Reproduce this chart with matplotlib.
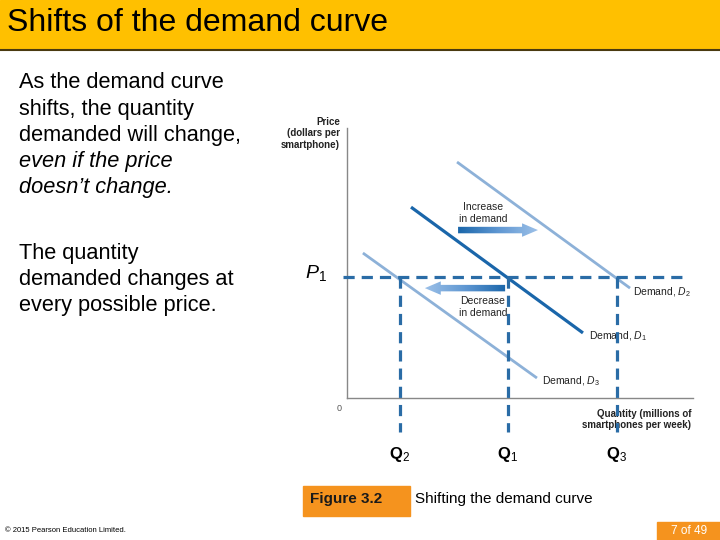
import numpy as np
import matplotlib
matplotlib.use("Agg")
import matplotlib.pyplot as plt
from matplotlib.patches import Rectangle, FancyArrow
from matplotlib.colors import LinearSegmentedColormap

plt.rcParams['font.family'] = ['Liberation Sans', 'DejaVu Sans']
plt.rcParams['mathtext.fontset'] = 'custom'
plt.rcParams['mathtext.rm'] = 'Liberation Sans'
plt.rcParams['mathtext.it'] = 'Liberation Sans:italic'
plt.rcParams['mathtext.bf'] = 'Liberation Sans:bold'

# --- データ (数量 0-100, 価格 0-100) ---
d1_q = [18.5, 68.2]
d1_p = [70.7, 24.1]
d2_q = [31.8, 81.8]
d2_p = [87.4, 40.7]
d3_q = [4.6, 54.9]
d3_p = [53.7, 7.4]
p1 = 44.8
q_vals = [15.3, 46.5, 78.0]
q_subs = ['2', '1', '3']
curve_labels = [r'Demand, $\mathit{D}_2$', r'Demand, $\mathit{D}_1$', r'Demand, $\mathit{D}_3$']

# 矢印 (開始, 終了, 価格)
inc_arrow = (32.1, 55.2, 62.2)
dec_arrow = (45.7, 22.5, 40.7)

dark_blue = '#1a66aa'
light_blue = '#8db1d8'
dash_blue = '#2a6ca6'
orange = '#f5931e'

fig = plt.figure(figsize=(7.2, 5.4), dpi=100)

# 背景 (ピクセル座標)
bg = fig.add_axes([0, 0, 1, 1])
bg.set_xlim(0, 720)
bg.set_ylim(540, 0)
bg.axis('off')

bg.add_patch(Rectangle((0, 0), 720, 49, color='#ffc000', zorder=1))
bg.plot([0, 720], [49.5, 49.5], color='#4a3a10', lw=1.5, zorder=2)
bg.text(7, 23, 'Shifts of the demand curve', fontsize=23, va='center', ha='left')

fs = 15.7
lines1 = ['As the demand curve', 'shifts, the quantity', 'demanded will change,']
for i, s in enumerate(lines1):
    bg.text(19, 83 + 26.3 * i, s, fontsize=fs, va='center')
bg.text(19, 162, 'even if the price', fontsize=fs, va='center', style='italic')
bg.text(19, 188, 'doesn\u2019t change.', fontsize=fs, va='center', style='italic')
lines2 = ['The quantity', 'demanded changes at', 'every possible price.']
for i, s in enumerate(lines2):
    bg.text(19, 253 + 26.5 * i, s, fontsize=fs, va='center')

bg.add_patch(Rectangle((303, 486), 107, 30, color=orange, zorder=1))
bg.text(310, 499, 'Figure 3.2', fontsize=11, fontweight='bold', va='center', color='#1a1a1a')
bg.text(415, 499, 'Shifting the demand curve', fontsize=11, va='center')
bg.add_patch(Rectangle((657, 522), 63, 18, color=orange, zorder=1))
bg.text(689, 531, '7 of 49', fontsize=8.5, color='white', va='center', ha='center')
bg.text(5, 531, '\u00a9 2015 Pearson Education Limited.', fontsize=5.5, va='center')

# --- グラフ ---
ax = fig.add_axes([347 / 720, 1 - 398 / 540, 346 / 720, 270 / 540])
ax.patch.set_alpha(0)
for s in ['top', 'right']:
    ax.spines[s].set_visible(False)
for s in ['left', 'bottom']:
    ax.spines[s].set_color('#888888')
    ax.spines[s].set_linewidth(1)
ax.set_xticks([])
ax.set_yticks([])

ax.plot(d2_q, d2_p, color=light_blue, lw=2, solid_capstyle='butt')
ax.plot(d1_q, d1_p, color=dark_blue, lw=2.3, solid_capstyle='butt')
ax.plot(d3_q, d3_p, color=light_blue, lw=2, solid_capstyle='butt')

ax.plot([-1.2, 98.3], [p1, p1], color=dash_blue, lw=2.3, ls=(0, (3.5, 2.2)), clip_on=False, zorder=4)
for q in q_vals:
    ax.plot([q, q], [p1, -12.6], color=dash_blue, lw=2.3, ls=(0, (3.5, 2.2)), clip_on=False, zorder=4)

# グラデーション矢印
cmap_arr = LinearSegmentedColormap.from_list('arr', [dark_blue, '#5f97d2', '#9cc0e8'])
def grad_arrow(x0, x1, y):
    dx = x1 - x0
    arr = FancyArrow(x0, y, dx, 0, width=2.4, head_width=5.0, head_length=4.6,
                     length_includes_head=True, lw=0, facecolor='none')
    ax.add_patch(arr)
    grad = np.linspace(0, 1, 256).reshape(1, -1)
    if dx < 0:
        grad = grad[:, ::-1]
    im = ax.imshow(grad, cmap=cmap_arr, aspect='auto',
                   extent=[min(x0, x1), max(x0, x1), y - 3, y + 3], zorder=3)
    im.set_clip_path(arr)

grad_arrow(*inc_arrow)
grad_arrow(*dec_arrow)
ax.set_xlim(0, 100)
ax.set_ylim(0, 100)

ax.text(39.3, 68.5, 'Increase\nin demand', fontsize=7.5, ha='center', va='center', linespacing=1.2, color='#222222')
ax.text(39.3, 33.8, 'Decrease\nin demand', fontsize=7.5, ha='center', va='center', linespacing=1.2, color='#222222')

label_pos = [(82.7, 39.2), (69.9, 22.9), (56.4, 6.3)]
for (x, y), lab in zip(label_pos, curve_labels):
    ax.text(x, y, lab, fontsize=7.5, ha='left', va='center', color='#222222')

ax.text(-2, 104, 'Price\n(dollars per\nsmartphone)', fontsize=7, fontweight='bold', ha='right', va='top',
        linespacing=1.15, clip_on=False, color='#222222')
ax.text(99.5, -4, 'Quantity (millions of\nsmartphones per week)', fontsize=7, fontweight='bold', ha='right',
        va='top', linespacing=1.15, clip_on=False, color='#222222')
ax.text(-2.3, -4, '0', fontsize=6.5, ha='center', va='center', color='#555555')

ax.text(-9, p1 + 1.5, r'$\mathit{P}_\mathit{1}$', fontsize=14, ha='center', va='center')
for q, sub in zip(q_vals, q_subs):
    ax.text(q, -21, r'$\mathbf{Q}_%s$' % sub, fontsize=12, ha='center', va='center')

fig.savefig('out.png', dpi=100)
